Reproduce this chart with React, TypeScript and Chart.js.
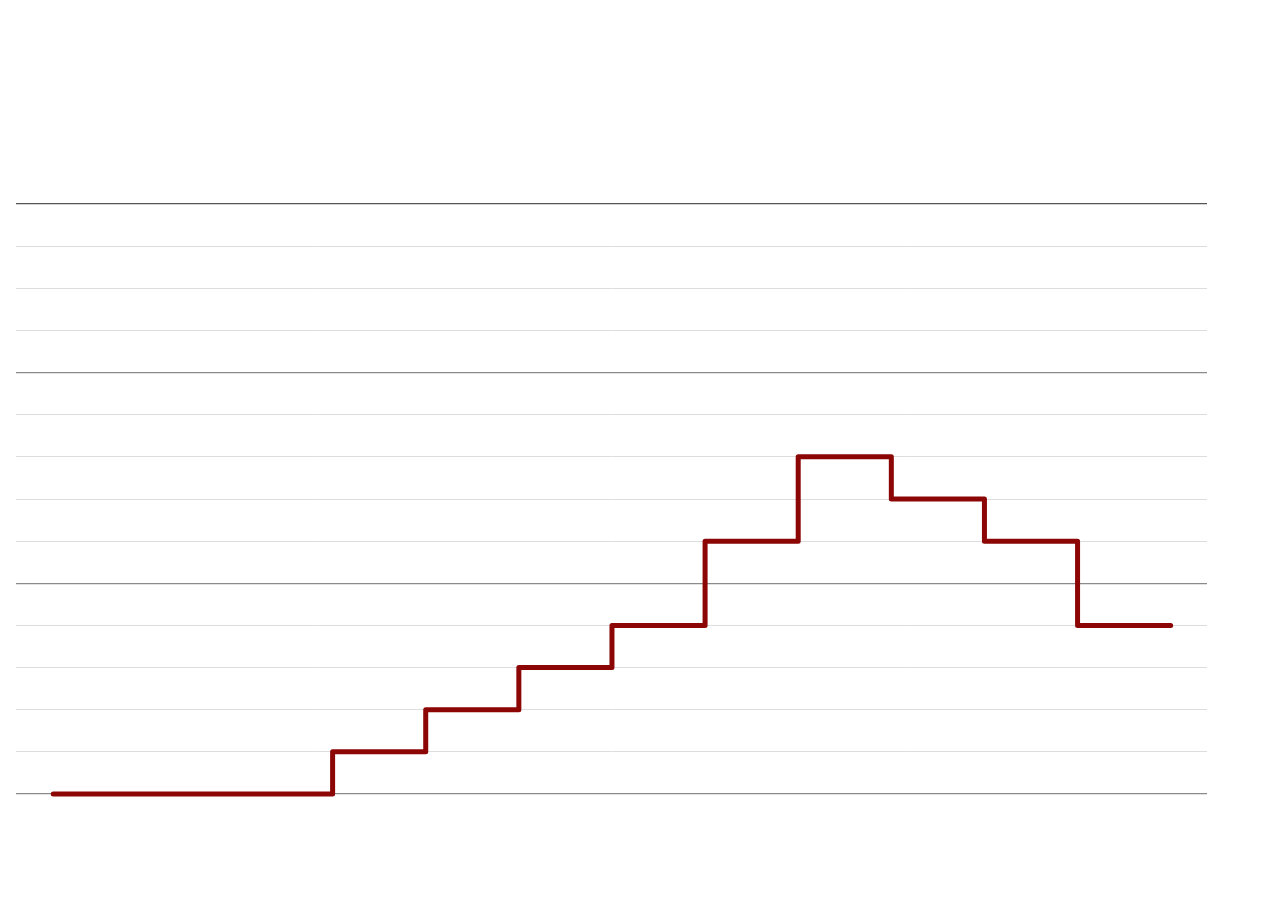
import React, { useEffect, useRef } from "react";
import { Chart, registerables } from "chart.js";

Chart.register(...registerables);

// step positions (one per period) and the value held at each
const periods = [0, 1, 2, 3, 4, 5, 6, 7, 8, 9, 10, 11, 12];
const levels = [0, 0, 0, 1, 2, 3, 4, 6, 8, 7, 6, 4, 4];
const yTicks = [0, 1, 2, 3, 4, 5, 6, 7, 8, 9, 10, 11, 12, 13, 14];

const App = () => {
  const canvasRef = useRef<HTMLCanvasElement>(null);
  const chartRef = useRef<Chart | null>(null);

  useEffect(() => {
    if (!canvasRef.current) return;
    if (chartRef.current) chartRef.current.destroy();

    chartRef.current = new Chart(canvasRef.current, {
      type: "line",
      data: {
        datasets: [
          {
            data: periods.map((p, i) => ({ x: p, y: levels[i] })),
            borderColor: "#8c0606",
            borderWidth: 5,
            borderCapStyle: "round",
            borderJoinStyle: "round",
            stepped: "before",
            pointRadius: 0,
            fill: false,
            clip: false,
          },
        ],
      },
      options: {
        animation: false,
        responsive: true,
        maintainAspectRatio: false,
        layout: { padding: { left: 8, right: 65, top: 196, bottom: 100 } },
        plugins: { legend: { display: false }, tooltip: { enabled: false } },
        scales: {
          x: {
            type: "linear",
            min: -0.4,
            max: 12.39,
            display: false,
          },
          y: {
            min: 0,
            max: 14,
            border: { display: false },
            afterBuildTicks: (axis: any) => {
              axis.ticks = yTicks.map((v) => ({ value: v }));
            },
            ticks: { display: false },
            grid: {
              drawTicks: false,
              lineWidth: (ctx: any) => (ctx.tick?.value % 5 === 0 || ctx.tick?.value === 14 ? 1.3 : 1),
              color: (ctx: any) => {
                const v = ctx.tick?.value;
                if (v === 14) return "#555555";
                if (v % 5 === 0) return "#8a8a8a";
                return "#dddddd";
              },
            },
          },
        },
      },
    });

    return () => {
      if (chartRef.current) {
        chartRef.current.destroy();
        chartRef.current = null;
      }
    };
  }, []);

  return (
    <div style={{ width: 1264, height: 886, position: "relative" }}>
      <canvas ref={canvasRef} />
    </div>
  );
};

export default App;
